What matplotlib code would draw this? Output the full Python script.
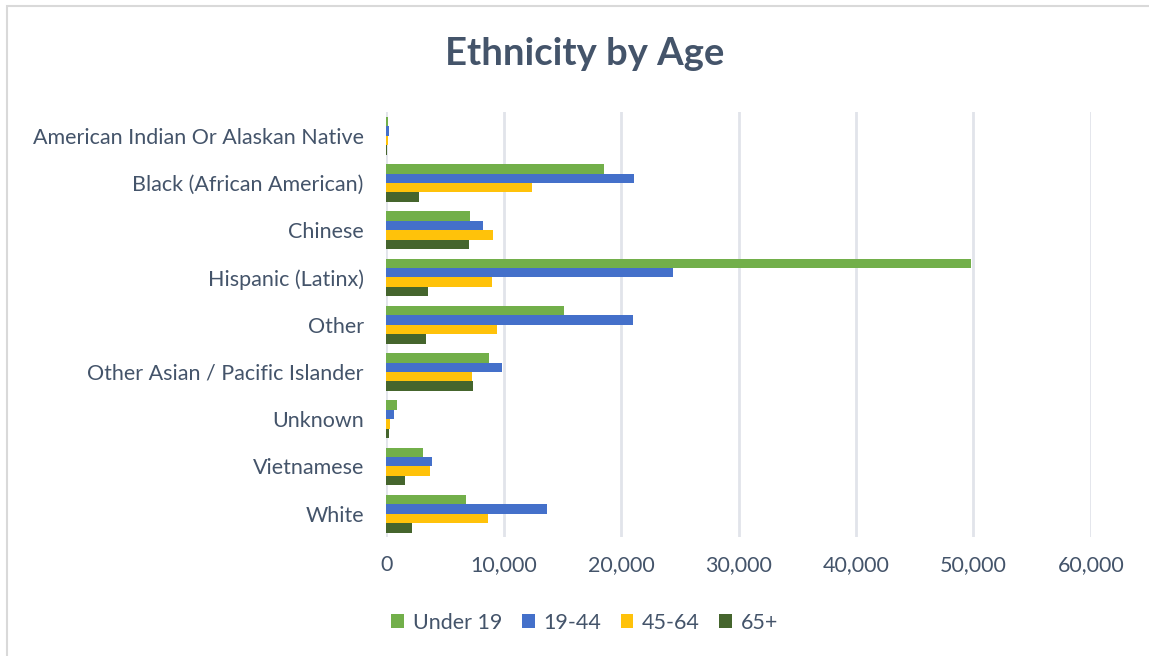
import matplotlib.pyplot as plt
import numpy as np
from matplotlib.patches import Rectangle
from matplotlib.ticker import FuncFormatter

plt.rcParams['font.family'] = ['Lato', 'DejaVu Sans']

categories = ['American Indian Or Alaskan Native', 'Black (African American)', 'Chinese',
              'Hispanic (Latinx)', 'Other', 'Other Asian / Pacific Islander', 'Unknown',
              'Vietnamese', 'White']
series = ['Under 19', '19-44', '45-64', '65+']
under_19 = [170, 18560, 7180, 49830, 15150, 8730, 930, 3140, 6780]
age_19_44 = [250, 21100, 8270, 24440, 21050, 9830, 680, 3900, 13730]
age_45_64 = [170, 12460, 9120, 9050, 9470, 7290, 340, 3730, 8640]
age_65_plus = [40, 2800, 7070, 3570, 3430, 7370, 250, 1610, 2200]
colors = ['#72AF4A', '#4470CA', '#FFC20A', '#45652D']
text_color = '#44546A'

fig = plt.figure(figsize=(11.49, 6.56), dpi=100)
ax = fig.add_axes([0.336, 0.181, 0.6135, 0.648])

y = np.arange(len(categories))
h = 0.2
for i, (vals, name, c) in enumerate(zip([under_19, age_19_44, age_45_64, age_65_plus], series, colors)):
    ax.barh(y - 0.3 + i * h, vals, height=h, color=c, label=name, zorder=3)

ax.set_xlim(0, 60000)
ax.set_ylim(len(categories) - 0.5, -0.5)
ax.set_yticks(y)
ax.set_yticklabels(categories)
ax.set_xticks(np.arange(0, 60001, 10000))
ax.xaxis.set_major_formatter(FuncFormatter(lambda v, p: f'{int(v):,}'))
ax.tick_params(axis='both', length=0, labelsize=15.5, colors=text_color)
ax.tick_params(axis='y', pad=16)
ax.tick_params(axis='x', pad=13)
ax.grid(axis='x', color='#E1E4EA', linewidth=2, zorder=0)
for s in ['top', 'right', 'bottom', 'left']:
    ax.spines[s].set_visible(False)

fig.text(0.509, 0.918, 'Ethnicity by Age', ha='center', va='center',
         fontsize=27.5, fontweight='bold', color=text_color)

leg = fig.legend(loc='center', bbox_to_anchor=(0.509, 0.051), ncol=4, frameon=False,
                 fontsize=15.5, handlelength=0.6, handleheight=0.6, handletextpad=0.4,
                 columnspacing=0.9)
for t in leg.get_texts():
    t.set_color(text_color)

fig.patches.append(Rectangle((0.006, -0.01), 1.1, 1.001, transform=fig.transFigure,
                             fill=False, edgecolor='#D9D9D9', linewidth=1.5))

fig.savefig('out.png', dpi=100)
